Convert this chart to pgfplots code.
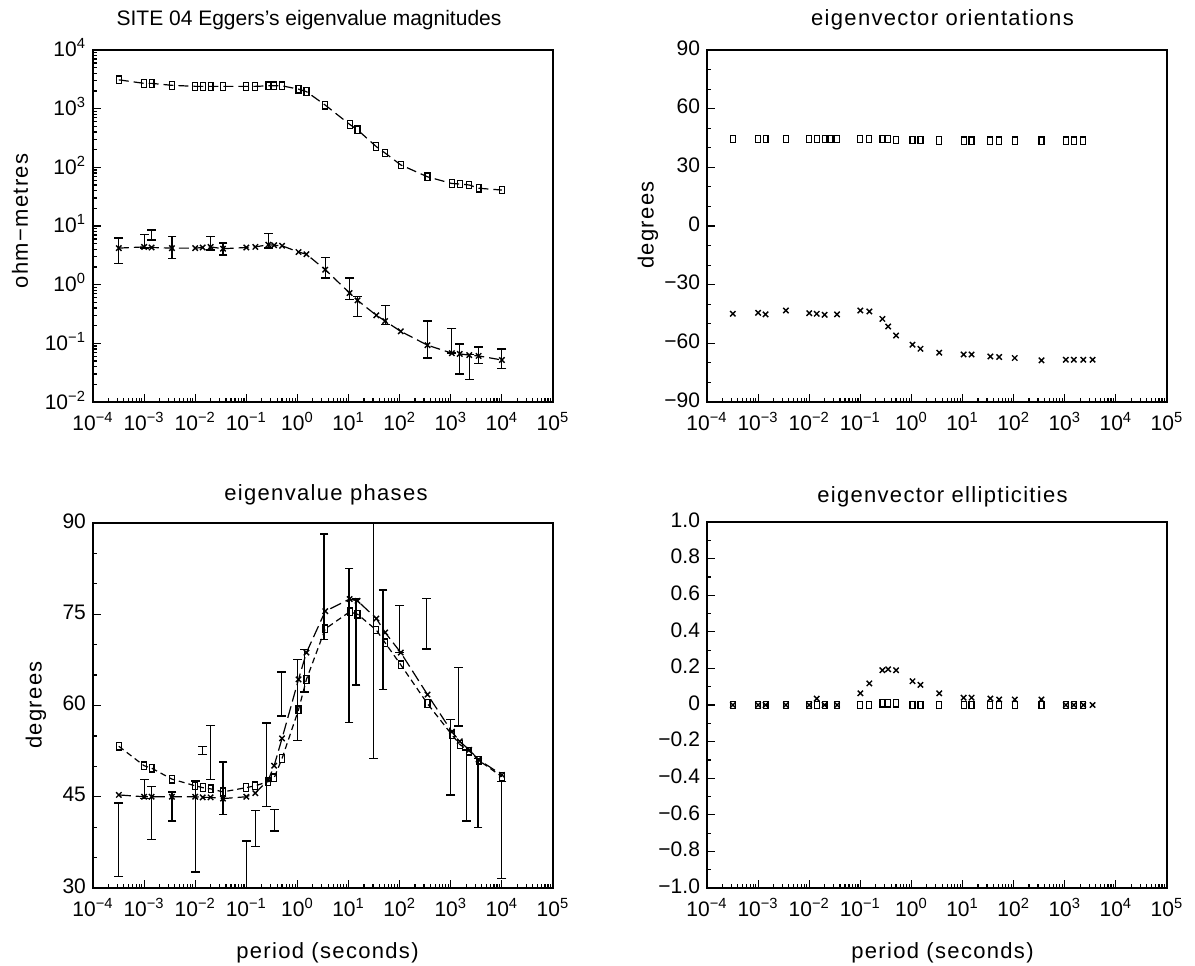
\documentclass[border=0pt]{standalone}
\usepackage{pgfplots}
\pgfplotsset{compat=1.18}
\usepackage{fontspec}
\setmainfont{Liberation Sans}
\newfontfamily\plotfont[LetterSpace=6]{Liberation Sans}
\pgfplotsset{
  myaxis/.style={
    scale only axis, width=230pt, anchor=south west,
    xmin=1e-4, xmax=1e5,
    xtick={1e-4,1e-3,1e-2,1e-1,1,1e1,1e2,1e3,1e4,1e5},
    xticklabels={10\textsuperscript{−4},10\textsuperscript{−3},10\textsuperscript{−2},10\textsuperscript{−1},10\textsuperscript{0},10\textsuperscript{1},10\textsuperscript{2},10\textsuperscript{3},10\textsuperscript{4},10\textsuperscript{5}},
    minor xtick={2e-4,3e-4,4e-4,5e-4,6e-4,7e-4,8e-4,9e-4,2e-3,3e-3,4e-3,5e-3,6e-3,7e-3,8e-3,9e-3,2e-2,3e-2,4e-2,5e-2,6e-2,7e-2,8e-2,9e-2,0.2,0.3,0.4,0.5,0.6,0.7,0.8,0.9,2,3,4,5,6,7,8,9,20,30,40,50,60,70,80,90,200,300,400,500,600,700,800,900,2000,3000,4000,5000,6000,7000,8000,9000,2e4,3e4,4e4,5e4,6e4,7e4,8e4,9e4},
    tick pos=left, tick align=inside,
    major tick length=4pt, minor tick length=2pt,
    every tick/.style={black, line width=0.6pt},
    axis line style={line width=0.8pt},
    tick label style={font=\fontsize{10.5}{12}\selectfont},
    xticklabel style={yshift=-1.5pt},
    yticklabel style={yshift=1pt},
    unbounded coords=jump,
  },
  mysq/.style={mark=square, mark size=1.9pt, mark options={solid, xscale=0.65, line width=0.6pt}},
  myxm/.style={mark=x, mark size=1.9pt, mark options={solid, line width=0.7pt}},
  myeb/.style={black, line width=0.6pt, mark=-, mark size=2.2pt, mark options={solid, line width=0.7pt}},
}
\begin{document}
\begin{tikzpicture}
\path (0pt,0pt) rectangle (597.5pt,482.5pt);
% ---------------- top left
\begin{loglogaxis}[myaxis, at={(46.5pt,281.5pt)}, height=176pt,
  ymin=1e-2, ymax=1e4,
  ytick={1e-2,1e-1,1,1e1,1e2,1e3,1e4},
  yticklabels={10\textsuperscript{−2},10\textsuperscript{−1},10\textsuperscript{0},10\textsuperscript{1},10\textsuperscript{2},10\textsuperscript{3},10\textsuperscript{4}},
  minor ytick={2e-2,3e-2,4e-2,5e-2,6e-2,7e-2,8e-2,9e-2,0.2,0.3,0.4,0.5,0.6,0.7,0.8,0.9,2,3,4,5,6,7,8,9,20,30,40,50,60,70,80,90,200,300,400,500,600,700,800,900,2000,3000,4000,5000,6000,7000,8000,9000}]
\addplot[black, line width=0.6pt, dash pattern=on 5pt off 2.5pt, mysq] coordinates {
(3.2e-4,3100)(1e-3,2700)(1.4e-3,2700)(3.5e-3,2500)(1e-2,2400)(1.4e-2,2400)(2e-2,2400)(3.5e-2,2400)(0.1,2400)(0.15,2400)(0.27,2450)(0.35,2450)(0.5,2450)(1.05,2150)(1.5,1950)(3.5,1150)(10.5,540)(15,435)(35,225)(52,175)(105,110)(350,69)(1050,53)(1500,52)(2300,50)(3500,44)(10000,41)};
\addplot[black, line width=0.6pt, dash pattern=on 5pt off 2.5pt, myxm] coordinates {
(3.2e-4,4.2)(1e-3,4.4)(1.4e-3,4.3)(3.5e-3,4.2)(1e-2,4.2)(1.4e-2,4.3)(2e-2,4.4)(3.5e-2,4.1)(0.1,4.3)(0.15,4.4)(0.27,4.8)(0.35,4.7)(0.5,4.6)(1.05,3.6)(1.5,3.3)(3.5,1.8)(10.5,0.72)(15,0.54)(35,0.3)(52,0.24)(105,0.16)(350,0.093)(1050,0.068)(1500,0.066)(2300,0.063)(3500,0.061)(10000,0.052)};
\addplot[myeb] coordinates {
(3.2e-4,2.3)(3.2e-4,6.2)(3.2e-4,nan)
(1e-3,4.2)(1e-3,7.1)(1e-3,nan)
(1.4e-3,5.8)(1.4e-3,8.5)(1.4e-3,nan)
(3.5e-3,2.8)(3.5e-3,6.6)(3.5e-3,nan)
(2e-2,3.9)(2e-2,6.6)(2e-2,nan)
(3.5e-2,3.2)(3.5e-2,5.1)(3.5e-2,nan)
(0.27,4.2)(0.27,7.4)(0.27,nan)
(3.5,1.3)(3.5,2.9)(3.5,nan)
(10.5,0.56)(10.5,1.3)(10.5,nan)
(15,0.29)(15,0.63)(15,nan)
(52,0.21)(52,0.44)(52,nan)
(350,0.056)(350,0.24)(350,nan)
(1050,0.068)(1050,0.18)(1050,nan)
(1500,0.03)(1500,0.098)(1500,nan)
(2300,0.024)(2300,0.065)(2300,nan)
(3500,0.045)(3500,0.086)(3500,nan)
(10000,0.037)(10000,0.08)};
\end{loglogaxis}
% ---------------- top right
\begin{semilogxaxis}[myaxis, at={(353.5pt,281.5pt)}, height=176pt,
  ymin=-90, ymax=90, ytick={-90,-60,-30,0,30,60,90},
  yticklabels={−90,−60,−30,0,30,60,90}, minor ytick={-80,-70,-50,-40,-20,-10,10,20,40,50,70,80}]
\addplot[only marks, black, mysq] coordinates {
(3.2e-4,44.5)(1e-3,44.5)(1.4e-3,44.5)(3.5e-3,44.5)(1e-2,44.5)(1.4e-2,44.5)(2e-2,44.5)(2.6e-2,44.5)(3.5e-2,44.5)(0.1,44.5)(0.15,44.5)(0.27,44.5)(0.35,44.5)(0.5,44)(1.05,44)(1.5,44)(3.5,43.8)(10.5,43.6)(15,43.6)(35,43.6)(52,43.6)(105,43.6)(350,43.6)(1050,43.6)(1500,43.6)(2300,43.6)};
\addplot[only marks, black, myxm] coordinates {
(3.2e-4,-44.9)(1e-3,-44.4)(1.4e-3,-45.2)(3.5e-3,-43.2)(1e-2,-44.6)(1.4e-2,-44.9)(2e-2,-45.4)(3.5e-2,-45.2)(0.1,-43.2)(0.15,-43.7)(0.27,-47.5)(0.35,-51.4)(0.5,-56.0)(1.05,-60.7)(1.5,-62.8)(3.5,-64.8)(10.5,-65.7)(15,-65.7)(35,-66.7)(52,-67.0)(105,-67.5)(350,-68.7)(1050,-68.4)(1500,-68.4)(2300,-68.4)(3500,-68.4)};
\end{semilogxaxis}
% ---------------- bottom left
\begin{semilogxaxis}[myaxis, at={(46.5pt,38.5pt)}, height=182.5pt,
  ymin=30, ymax=90, ytick={30,45,60,75,90}, yticklabels={30,45,60,75,90},
  minor ytick={35,40,50,55,65,70,80,85}]
\addplot[black, line width=0.6pt, dash pattern=on 3pt off 2pt, mysq] coordinates {
(3.2e-4,53.3)(1e-3,50.1)(1.4e-3,49.7)(3.5e-3,47.9)(1e-2,46.8)(1.4e-2,46.5)(2e-2,46.3)(3.5e-2,45.8)(0.1,46.5)(0.15,46.8)(0.27,47.5)(0.35,48.1)(0.5,51.3)(1.05,59.3)(1.5,64.3)(3.5,72.6)(10.5,75.4)(15,75.0)(35,72.4)(52,70.3)(105,66.7)(350,60.3)(1050,55.2)(1500,53.6)(2300,52.5)(3500,51.0)(10000,48.3)};
\addplot[black, line width=0.6pt, dash pattern=on 6pt off 2.5pt, myxm] coordinates {
(3.2e-4,45.3)(1e-3,45.0)(1.4e-3,45.0)(3.5e-3,45.0)(1e-2,45.0)(1.4e-2,44.9)(2e-2,44.9)(3.5e-2,44.7)(0.1,45.0)(0.15,45.6)(0.27,47.8)(0.35,50.1)(0.5,54.6)(1.05,64.3)(1.5,68.7)(3.5,75.5)(10.5,77.5)(15,77.2)(35,74.3)(52,72.0)(105,68.7)(350,61.8)(1050,55.7)(1500,54.1)(2300,52.7)(3500,51.1)(10000,48.6)};
\addplot[myeb] coordinates {
(3.2e-4,31.9)(3.2e-4,44.0)(3.2e-4,nan)
(1e-3,44.7)(1e-3,47.8)(1e-3,nan)
(1.4e-3,38.0)(1.4e-3,46.7)(1.4e-3,nan)
(3.5e-3,41.0)(3.5e-3,45.8)(3.5e-3,nan)
(1e-2,32.6)(1e-2,47.6)(1e-2,nan)
(1.4e-2,51.9)(1.4e-2,53.3)(1.4e-2,nan)
(2e-2,47.8)(2e-2,56.7)(2e-2,nan)
(3.5e-2,42.1)(3.5e-2,50.7)(3.5e-2,nan)
(0.1,30)(0.1,37.7)(0.1,nan)
(0.15,36.8)(0.15,42.7)(0.15,nan)
(0.25,43.4)(0.25,57.1)(0.25,nan)
(0.35,39.4)(0.35,42.9)(0.35,nan)
(0.48,58.3)(0.48,65.5)(0.48,nan)
(1.0,54.2)(1.0,67.6)(1.0,nan)
(1.35,62.2)(1.35,69.2)(1.35,nan)
(3.3,70.9)(3.3,88.2)(3.3,nan)
(10.2,57.2)(10.2,82.5)(10.2,nan)
(14,63.4)(14,77.5)(14,nan)
(31,51.3)(31,95)(31,nan)
(47,62.6)(47,79.0)(47,nan)
(100,68.7)(100,76.4)(100,nan)
(330,69.3)(330,77.6)(330,nan)
(1000,45.3)(1000,57.7)(1000,nan)
(1400,56.6)(1400,66.2)(1400,nan)
(2000,41.0)(2000,52.7)(2000,nan)
(3400,39.9)(3400,51.3)(3400,nan)
(10000,31.6)(10000,47.5)};
\end{semilogxaxis}
% ---------------- bottom right
\begin{semilogxaxis}[myaxis, at={(353.5pt,38.5pt)}, height=183pt,
  ymin=-1, ymax=1, ytick={-1,-0.8,-0.6,-0.4,-0.2,0,0.2,0.4,0.6,0.8,1},
  yticklabels={−1.0,−0.8,−0.6,−0.4,−0.2,0,0.2,0.4,0.6,0.8,1.0},
  minor ytick={-0.9,-0.7,-0.5,-0.3,-0.1,0.1,0.3,0.5,0.7,0.9}]
\addplot[only marks, black, mysq] coordinates {
(3.2e-4,0)(1e-3,0)(1.4e-3,0)(3.5e-3,0)(1e-2,0)(1.4e-2,0)(2e-2,0)(3.5e-2,0)(0.1,0)(0.15,0)(0.27,0.01)(0.35,0.01)(0.5,0.01)(1.05,0)(1.5,0)(3.5,0)(10.5,0)(15,0)(35,0)(52,0)(105,0)(350,0)(1050,0)(1500,0)(2300,0)};
\addplot[only marks, black, myxm] coordinates {
(3.2e-4,0)(1e-3,0)(1.4e-3,0)(3.5e-3,0)(1e-2,0)(1.4e-2,0.035)(2e-2,0)(3.5e-2,0)(0.1,0.064)(0.15,0.118)(0.27,0.19)(0.35,0.195)(0.5,0.19)(1.05,0.13)(1.5,0.11)(3.5,0.064)(10.5,0.04)(15,0.04)(35,0.035)(52,0.03)(105,0.03)(350,0.03)(1050,0)(1500,0)(2300,0)(3500,0)};
\end{semilogxaxis}
% ---------------- titles and labels
\node[font=\fontsize{10.5}{12}\selectfont, inner sep=0pt] at (154.5pt,472.5pt) {SITE 04 Eggers's eigenvalue magnitudes};
\begin{scope}[every node/.style={font=\plotfont\fontsize{11}{13}\selectfont, inner sep=0pt}]
\node at (471.25pt,472.5pt) {eigenvector orientations};
\node at (163pt,235pt) {eigenvalue phases};
\node at (471.25pt,234pt) {eigenvector ellipticities};
\node at (163.75pt,6pt) {period (seconds)};
\node at (471.25pt,6pt) {period (seconds)};
\node[rotate=90] at (10pt,372pt) {ohm−metres};
\node[rotate=90] at (324pt,370pt) {degrees};
\node[rotate=90] at (18pt,130pt) {degrees};
\end{scope}
\end{tikzpicture}
\end{document}
